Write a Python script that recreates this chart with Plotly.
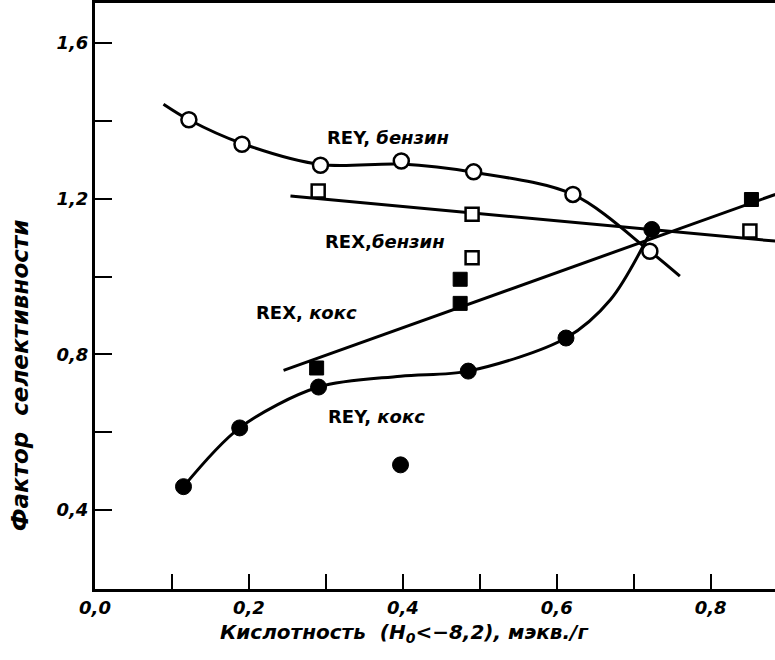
import plotly.graph_objects as go

# ---- data ----
# REY, бензин (open circles)
rey_gas_x = [0.122, 0.191, 0.293, 0.398, 0.492, 0.621, 0.721]
rey_gas_y = [1.403, 1.340, 1.286, 1.297, 1.269, 1.211, 1.065]
rey_gas_curve_x = [0.089, 0.122, 0.191, 0.293, 0.398, 0.492, 0.621, 0.721, 0.760]
rey_gas_curve_y = [1.443, 1.403, 1.342, 1.288, 1.289, 1.268, 1.211, 1.065, 1.001]

# REX, бензин (open squares)
rex_gas_x = [0.290, 0.490, 0.490, 0.851]
rex_gas_y = [1.220, 1.160, 1.048, 1.117]
rex_gas_line_x = [0.254, 0.884]
rex_gas_line_y = [1.207, 1.091]

# REX, кокс (filled squares)
rex_coke_x = [0.288, 0.4745, 0.4745, 0.853]
rex_coke_y = [0.765, 0.993, 0.931, 1.198]
rex_coke_line_x = [0.245, 0.884]
rex_coke_line_y = [0.759, 1.211]

# REY, кокс (filled circles)
rey_coke_x = [0.115, 0.188, 0.2905, 0.397, 0.485, 0.612, 0.7235]
rey_coke_y = [0.460, 0.611, 0.716, 0.516, 0.757, 0.842, 1.121]
rey_coke_curve_x = [0.115, 0.188, 0.2905, 0.397, 0.485, 0.612, 0.670, 0.7235]
rey_coke_curve_y = [0.460, 0.611, 0.716, 0.744, 0.757, 0.842, 0.941, 1.121]

x_ticks = [0.0, 0.2, 0.4, 0.6, 0.8]
x_tick_text = ["0,0", "0,2", "0,4", "0,6", "0,8"]
x_minor_ticks = [0.1, 0.3, 0.5, 0.7]
y_ticks = [0.4, 0.8, 1.2, 1.6]
y_tick_text = ["0,4", "0,8", "1,2", "1,6"]
y_minor_ticks = [0.6, 1.0, 1.4]

series_labels = ["<b>REY, <i>бензин</i></b>", "<b>REX,<i>бензин</i></b>",
                 "<b>REX, <i>кокс</i></b>", "<b>REY, <i>кокс</i></b>"]
label_x = [0.381, 0.377, 0.2745, 0.3655]
label_y = [1.358, 1.090, 0.908, 0.640]

x_title = "<b><i>Кислотность  (H<sub>0</sub><−8,2), мэкв./г</i></b>"
y_title = "<b><i>Фактор\u00a0\u00a0селективности</i></b>"

BLK = "black"
LW = 3

fig = go.Figure()

# curves / lines
for cx, cy, shape in [(rey_gas_curve_x, rey_gas_curve_y, "spline"),
                      (rex_gas_line_x, rex_gas_line_y, "linear"),
                      (rex_coke_line_x, rex_coke_line_y, "linear"),
                      (rey_coke_curve_x, rey_coke_curve_y, "spline")]:
    fig.add_trace(go.Scatter(x=cx, y=cy, mode="lines",
                             line=dict(color=BLK, width=LW, shape=shape, smoothing=0.9),
                             hoverinfo="skip", showlegend=False))

# markers
fig.add_trace(go.Scatter(x=rey_gas_x, y=rey_gas_y, mode="markers", showlegend=False,
                         marker=dict(symbol="circle", size=15, color="white",
                                     line=dict(color=BLK, width=2.5))))
fig.add_trace(go.Scatter(x=rex_gas_x, y=rex_gas_y, mode="markers", showlegend=False,
                         marker=dict(symbol="square", size=13, color="white",
                                     line=dict(color=BLK, width=2.5))))
fig.add_trace(go.Scatter(x=rex_coke_x, y=rex_coke_y, mode="markers", showlegend=False,
                         marker=dict(symbol="square", size=14, color=BLK,
                                     line=dict(color=BLK, width=1))))
fig.add_trace(go.Scatter(x=rey_coke_x, y=rey_coke_y, mode="markers", showlegend=False,
                         marker=dict(symbol="circle", size=16, color=BLK,
                                     line=dict(color=BLK, width=1))))

for t, lx, ly in zip(series_labels, label_x, label_y):
    fig.add_annotation(x=lx, y=ly, text=t, showarrow=False,
                       font=dict(family="DejaVu Sans", size=18, color=BLK))

fig.add_annotation(xref="paper", yref="paper", x=0.455, y=-0.075, text=x_title,
                   showarrow=False, xanchor="center", yanchor="middle",
                   font=dict(family="DejaVu Sans", size=20, color=BLK))
fig.add_annotation(xref="paper", yref="paper", x=-0.11, y=0.365, text=y_title,
                   showarrow=False, textangle=-90, xanchor="center", yanchor="middle",
                   font=dict(family="DejaVu Sans", size=23, color=BLK))

tickfont = dict(family="DejaVu Sans", size=18, color=BLK, weight="bold", style="italic")

fig.update_xaxes(range=[0, 0.8836], tickvals=x_ticks, ticktext=x_tick_text,
                 ticks="inside", ticklen=15, tickwidth=2, tickcolor=BLK,
                 minor=dict(tickvals=x_minor_ticks, ticks="inside", ticklen=15,
                            tickwidth=2, tickcolor=BLK, showgrid=False),
                 showline=True, linewidth=3, linecolor=BLK, mirror=True,
                 showgrid=False, zeroline=False, tickfont=tickfont)
fig.update_yaxes(range=[0.197, 1.703], tickvals=y_ticks, ticktext=y_tick_text,
                 ticks="inside", ticklen=17, tickwidth=2, tickcolor=BLK,
                 minor=dict(tickvals=y_minor_ticks, ticks="inside", ticklen=17,
                            tickwidth=2, tickcolor=BLK, showgrid=False),
                 showline=True, linewidth=3, linecolor=BLK, mirror=False,
                 showgrid=False, zeroline=False, tickfont=tickfont)

fig.update_layout(width=775, height=660, margin=dict(l=95, r=0, t=3, b=71),
                  paper_bgcolor="white", plot_bgcolor="white", showlegend=False)

fig.write_html("out.html", config={"displayModeBar": False},
               post_script="document.body.style.margin='0';document.body.style.padding='0';")
